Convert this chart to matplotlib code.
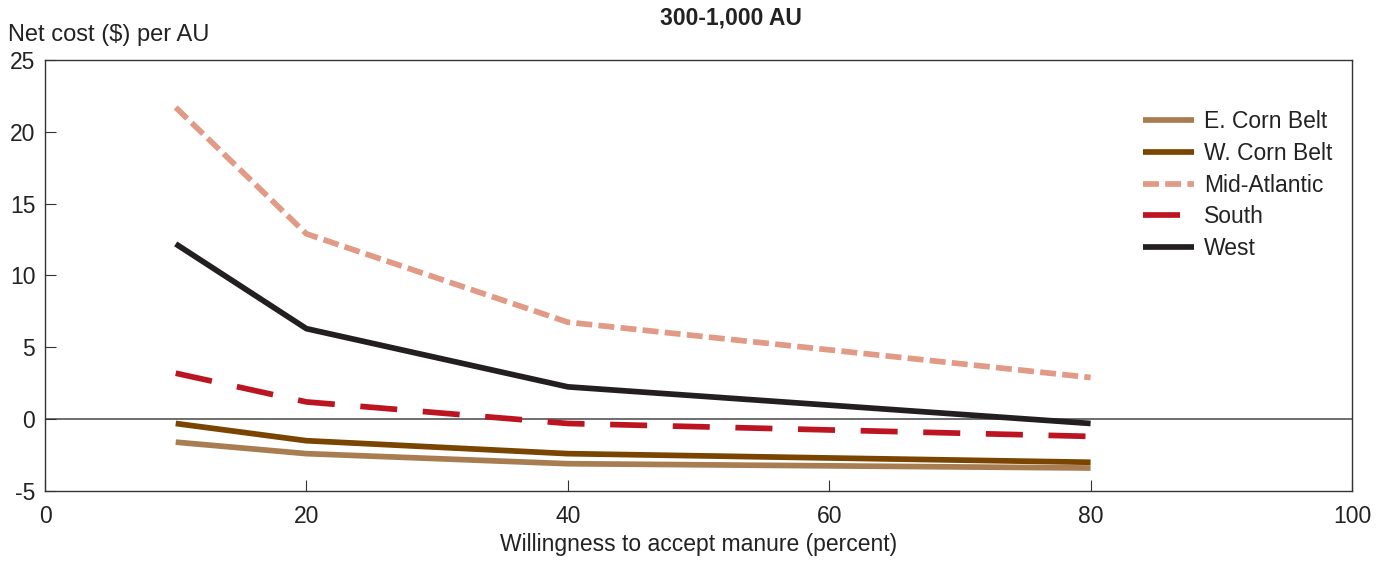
import matplotlib
matplotlib.use("Agg")
import matplotlib.pyplot as plt

plt.rcParams['font.family'] = ['Liberation Sans', 'DejaVu Sans']
plt.rcParams['axes.unicode_minus'] = False

x = [10, 20, 40, 80]
east_corn = [-1.6, -2.4, -3.1, -3.4]
west_corn = [-0.3, -1.5, -2.4, -3.0]
mid_atlantic = [21.7, 12.9, 6.75, 2.9]
south = [3.2, 1.2, -0.3, -1.2]
west = [12.2, 6.3, 2.25, -0.3]

labels = ["E. Corn Belt", "W. Corn Belt", "Mid-Atlantic", "South", "West"]
xticks = [0, 20, 40, 60, 80, 100]
yticks = [-5, 0, 5, 10, 15, 20, 25]

fig = plt.figure(figsize=(13.87, 5.65), dpi=100)
ax = fig.add_axes([45/1387, (565-491)/565, (1352-45)/1387, (491-60)/565])

lw = 4.1
ax.axhline(0, color='#555555', lw=1.2, zorder=1)
ax.plot(x, east_corn, color='#A87D52', lw=lw, label=labels[0], solid_capstyle='butt')
ax.plot(x, west_corn, color='#7A4500', lw=lw, label=labels[1], solid_capstyle='butt')
ax.plot(x, mid_atlantic, color='#E09A85', lw=lw, label=labels[2], dashes=(2.8, 1.1), dash_capstyle='butt')
ax.plot(x, south, color='#BC1420', lw=lw, label=labels[3], dashes=(6.5, 4.5), dash_capstyle='butt')
ax.plot(x, west, color='#231F20', lw=lw, label=labels[4], solid_capstyle='butt')

ax.set_xlim(0, 100)
ax.set_ylim(-5, 25)
ax.set_xticks(xticks)
ax.set_yticks(yticks)
ax.tick_params(direction='in', labelsize=16.5, length=8, color='#333333', labelcolor='#222222')
ax.tick_params(axis='y', pad=7)
ax.tick_params(axis='x', pad=10)
for s in ax.spines.values():
    s.set_color('#333333')
    s.set_linewidth(1.0)

ax.set_xlabel("Willingness to accept manure (percent)", fontsize=16.5, labelpad=4, color='#222222')
fig.text(8/1387, 1 - 35/565, "Net cost ($) per AU", fontsize=17, ha='left', va='center', color='#222222')
fig.text(731/1387, 1 - 18/565, "300-1,000 AU", fontsize=16.5, fontweight='bold', ha='center', va='center', color='#222222')

leg = ax.legend(loc='upper right', bbox_to_anchor=(0.992, 0.905), frameon=False, fontsize=16.5,
                handlelength=2.2, handletextpad=0.45, labelspacing=0.38, borderaxespad=0)
for t in leg.get_texts():
    t.set_color('#222222')

fig.savefig("out.png", dpi=100)
